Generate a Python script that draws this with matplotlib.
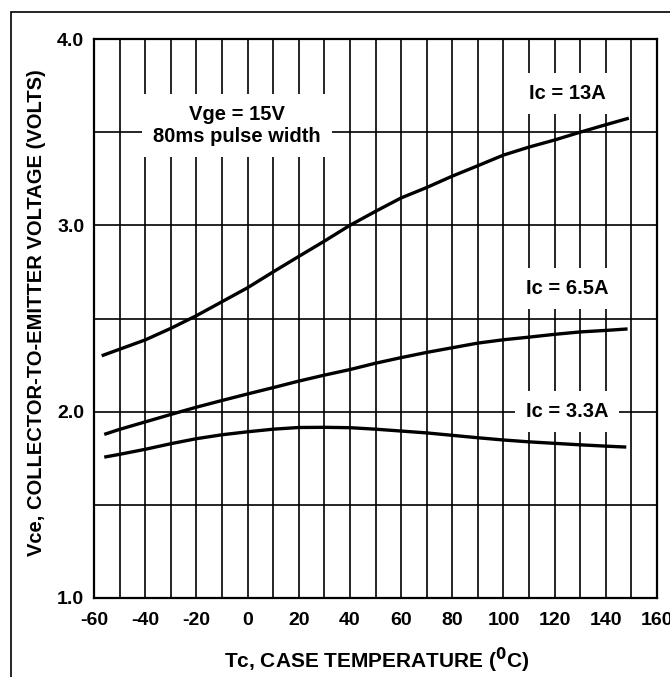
import matplotlib
matplotlib.use("Agg")
import matplotlib.pyplot as plt
from matplotlib.patches import Rectangle
from matplotlib.ticker import MultipleLocator

plt.rcParams['font.family'] = ['Liberation Sans', 'DejaVu Sans']
plt.rcParams['font.weight'] = 'bold'

# ---- data ----
t_13a = [-57, -50, -40, -30, -20, -10, 0, 10, 20, 30, 40, 50, 60, 70, 80, 90, 100, 110, 120, 130, 140, 149]
v_13a = [2.30, 2.335, 2.385, 2.447, 2.515, 2.59, 2.665, 2.75, 2.833, 2.915, 3.0, 3.075, 3.147, 3.203,
         3.264, 3.32, 3.377, 3.42, 3.458, 3.50, 3.54, 3.575]

t_65a = [-56, -50, -40, -30, -20, -10, 0, 10, 20, 30, 40, 50, 60, 70, 80, 90, 100, 110, 120, 130, 140, 148.5]
v_65a = [1.878, 1.905, 1.945, 1.985, 2.024, 2.06, 2.095, 2.129, 2.164, 2.196, 2.226, 2.26, 2.29, 2.318,
         2.343, 2.368, 2.386, 2.40, 2.415, 2.428, 2.436, 2.444]

t_33a = [-56, -50, -40, -30, -20, -10, 0, 10, 20, 30, 40, 50, 60, 70, 80, 90, 100, 110, 120, 130, 140, 148]
v_33a = [1.756, 1.771, 1.798, 1.828, 1.855, 1.876, 1.892, 1.906, 1.915, 1.916, 1.914, 1.906, 1.896,
         1.886, 1.873, 1.86, 1.848, 1.838, 1.83, 1.822, 1.815, 1.81]

x_ticks = [-60, -40, -20, 0, 20, 40, 60, 80, 100, 120, 140, 160]
x_tick_labels = ['-60', '-40', '-20', '0', '20', '40', '60', '80', '100', '120', '140', '160']
y_ticks = [1.0, 2.0, 3.0, 4.0]
y_tick_labels = ['1.0', '2.0', '3.0', '4.0']

curve_labels = ['Ic = 13A', 'Ic = 6.5A', 'Ic = 3.3A']
condition_text = 'Vge = 15V\n80ms pulse width'

# ---- figure ----
W, H = 670, 677
fig = plt.figure(figsize=(W / 100, H / 100), dpi=100)
ax = fig.add_axes([94 / W, 1 - 598 / H, (657 - 94) / W, (598 - 39) / H])

# outer frame (cut off at right and bottom)
fig.add_artist(Rectangle((11 / W, -0.2), 1.5, 1 - 12 / H + 0.2, transform=fig.transFigure,
                         fill=False, edgecolor='black', linewidth=1.2, clip_on=False))

ax.set_xlim(-60, 160)
ax.set_ylim(1.0, 4.0)
ax.set_xticks(x_ticks)
ax.set_xticklabels(x_tick_labels)
ax.set_yticks(y_ticks)
ax.set_yticklabels(y_tick_labels)
ax.xaxis.set_minor_locator(MultipleLocator(10))
ax.yaxis.set_minor_locator(MultipleLocator(0.5))
ax.tick_params(which='both', length=0)
ax.tick_params(axis='x', labelsize=14, pad=10)
ax.tick_params(axis='y', labelsize=14, pad=7)
for lbl in ax.get_xticklabels() + ax.get_yticklabels():
    lbl.set_fontweight('bold')

ax.set_axisbelow(True)
ax.grid(which='both', color='black', linewidth=1.2)
for s in ax.spines.values():
    s.set_linewidth(1.6)

for t, v in [(t_13a, v_13a), (t_65a, v_65a), (t_33a, v_33a)]:
    ax.plot(t, v, color='black', linewidth=2.4, solid_capstyle='butt', zorder=2)

box = dict(boxstyle='square,pad=0.55', facecolor='white', edgecolor='none')
ax.text(0.254, 0.845, condition_text, transform=ax.transAxes, ha='center', va='center',
        fontsize=14.5, fontweight='bold', linespacing=1.2, bbox=box, zorder=3)
for lbl, yy in zip(curve_labels, [0.903, 0.554, 0.334]):
    ax.text(0.840, yy, lbl, transform=ax.transAxes, ha='center', va='center',
            fontsize=14.5, fontweight='bold', bbox=box, zorder=3)

ax.set_xlabel('Tc, CASE TEMPERATURE ($\\mathbf{^{0}}$C)', fontsize=15, fontweight='bold')
ax.xaxis.set_label_coords(0.502, -0.111)
ax.xaxis.label.set_va('center')
ax.set_ylabel('Vce, COLLECTOR-TO-EMITTER VOLTAGE (VOLTS)', fontsize=14.5, fontweight='bold')
ax.yaxis.set_label_coords(-0.103, 0.51)
ax.yaxis.label.set_va('center')

fig.savefig('out.png', dpi=100)
